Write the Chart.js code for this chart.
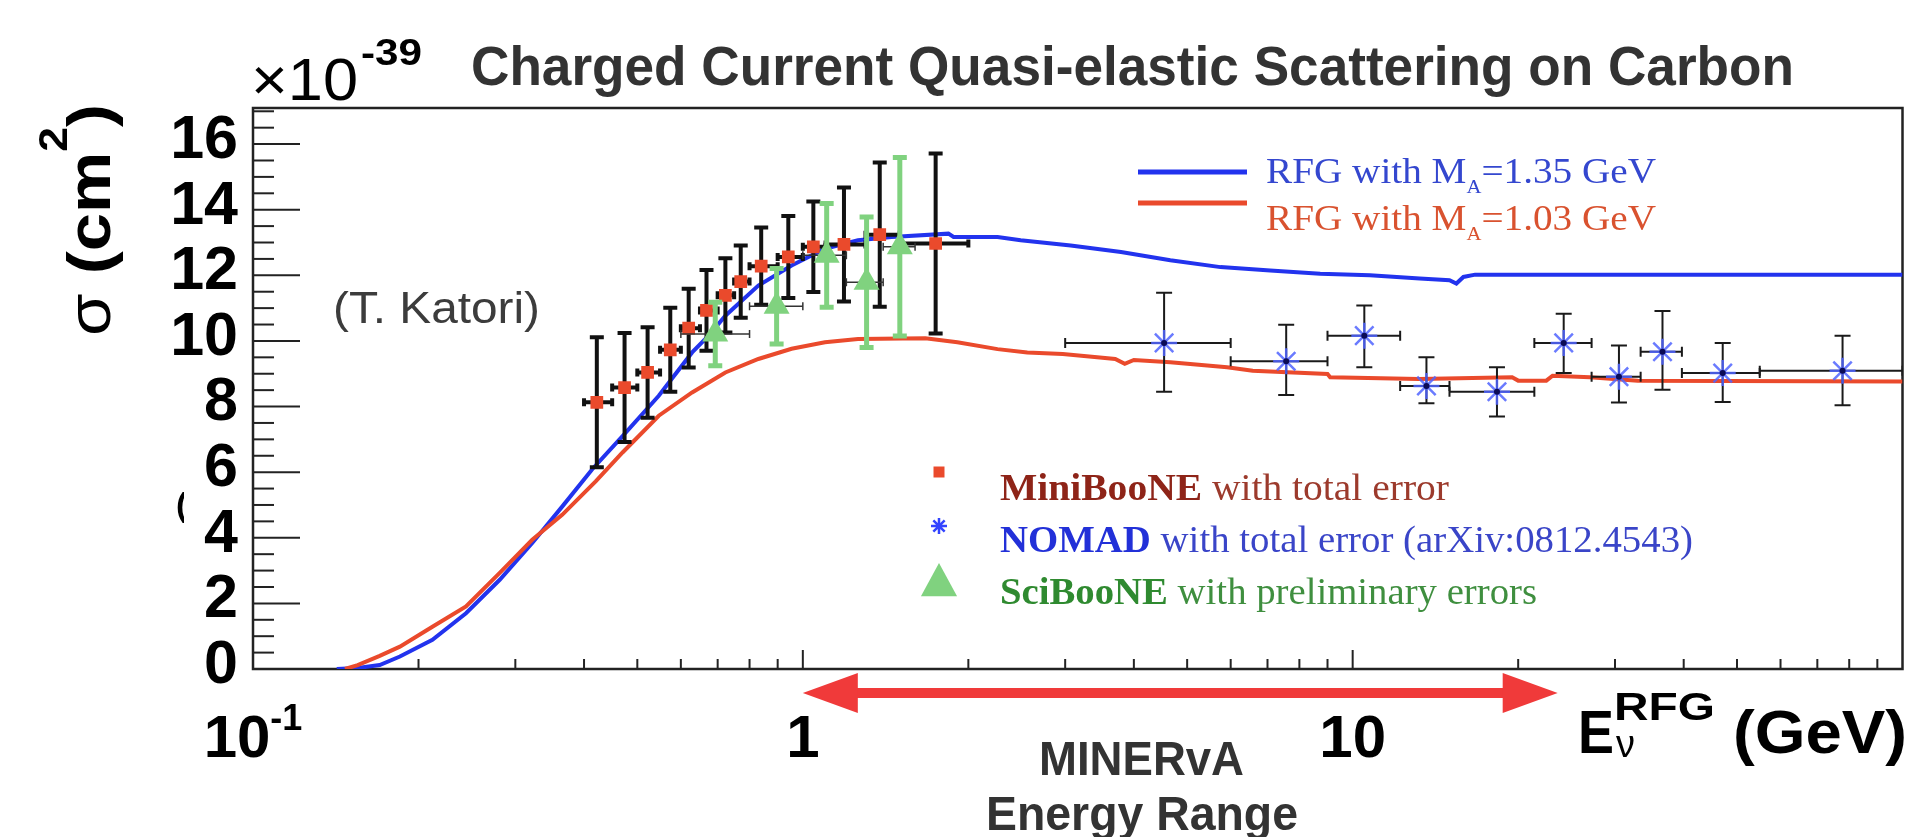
<!DOCTYPE html>
<html>
<head>
<meta charset="utf-8">
<title>Charged Current Quasi-elastic Scattering on Carbon</title>
<script src="https://cdn.jsdelivr.net/npm/chart.js@4.4.1/dist/chart.umd.min.js"></script>
<style>
  html, body { margin: 0; padding: 0; background: #fff; }
  canvas { display: block; }
</style>
</head>
<body>
<canvas id="xsecChart" width="1918" height="837"></canvas>
<script>
// ─── Data (E in GeV, sigma in 1e-39 cm^2) ─────────────────────────────────────
// RFG prediction, M_A = 1.35 GeV
const rfg135E    = [0.142, 0.155, 0.170, 0.185, 0.212, 0.244, 0.281, 0.322, 0.365, 0.414, 0.47, 0.547, 0.629, 0.674, 0.723, 0.83, 0.954, 1.097, 1.26, 1.45, 1.84, 1.88, 2.26, 2.49, 3.07, 3.79, 4.66, 5.75, 7.08, 8.73, 10.75, 13.24, 15.0, 15.44, 15.9, 16.7, 100];
const rfg135Xsec = [0, 0.03, 0.12, 0.38, 0.89, 1.70, 2.72, 3.84, 4.95, 6.09, 7.1, 8.33, 9.65, 10.16, 10.77, 11.69, 12.30, 12.81, 13.07, 13.17, 13.27, 13.17, 13.17, 13.07, 12.91, 12.71, 12.46, 12.25, 12.15, 12.05, 12.00, 11.90, 11.85, 11.75, 11.95, 12.02, 12.02];

// RFG prediction, M_A = 1.03 GeV
const rfg103E    = [0.147, 0.155, 0.170, 0.185, 0.212, 0.244, 0.281, 0.322, 0.365, 0.42, 0.47, 0.547, 0.629, 0.723, 0.83, 0.954, 1.097, 1.26, 1.67, 1.91, 2.26, 2.56, 2.97, 3.43, 3.7, 3.85, 4.0, 4.66, 5.91, 6.58, 9.0, 9.1, 13.2, 19.5, 20.0, 22.5, 23.1, 27.0, 33.0, 100];
const rfg103Xsec = [0, 0.12, 0.40, 0.68, 1.29, 1.91, 2.93, 3.94, 4.7, 5.72, 6.6, 7.72, 8.43, 9.04, 9.45, 9.76, 9.96, 10.06, 10.08, 9.96, 9.75, 9.65, 9.60, 9.50, 9.45, 9.30, 9.42, 9.35, 9.20, 9.09, 8.99, 8.89, 8.84, 8.89, 8.79, 8.79, 8.94, 8.89, 8.79, 8.76];

// MiniBooNE, total error
const mbE     = [0.422, 0.474, 0.522, 0.574, 0.62, 0.668, 0.723, 0.771, 0.84, 0.941, 1.045, 1.188, 1.38, 1.744];
const mbXsec  = [8.13, 8.58, 9.04, 9.73, 10.39, 10.93, 11.39, 11.81, 12.28, 12.56, 12.87, 12.94, 13.24, 12.97];
const mbErr   = [1.98, 1.66, 1.38, 1.28, 1.20, 1.23, 1.13, 1.10, 1.18, 1.25, 1.38, 1.74, 2.20, 2.74];
const mbBinLo = [0.40, 0.45, 0.50, 0.55, 0.60, 0.65, 0.70, 0.75, 0.80, 0.90, 1.00, 1.10, 1.30, 1.50];
const mbBinHi = [0.45, 0.50, 0.55, 0.60, 0.65, 0.70, 0.75, 0.80, 0.90, 1.00, 1.10, 1.30, 1.50, 2.00];

// NOMAD, total error (arXiv:0812.4543)
const nomadE       = [4.54, 7.57, 10.5, 13.62, 18.3, 24.2, 30.5, 36.6, 47.1, 77.8];
const nomadXsec    = [9.94, 9.38, 10.16, 8.63, 8.45, 9.94, 8.91, 9.67, 9.02, 9.09];
const nomadErrUp   = [1.53, 1.11, 0.92, 0.87, 0.75, 0.89, 0.95, 1.24, 0.92, 1.07];
const nomadErrDown = [1.49, 1.03, 0.96, 0.53, 0.75, 0.92, 0.79, 1.16, 0.88, 1.05];
const nomadBinLo   = [3.0, 6.0, 9.0, 12.2, 15.0, 21.4, 27.2, 33.4, 39.7, 55.0];
const nomadBinHi   = [6.0, 9.0, 12.2, 15.0, 21.4, 27.2, 33.4, 39.7, 55.0, 100];

// SciBooNE, preliminary errors
const sbE     = [0.693, 0.896, 1.105, 1.306, 1.501];
const sbXsec  = [10.21, 11.06, 12.61, 11.79, 12.87];
const sbErr   = [0.97, 1.15, 1.58, 1.99, 2.72];
const sbBinLo = [0.6, 0.8, 1.0, 1.2, 1.4];
const sbBinHi = [0.8, 1.0, 1.2, 1.4, 1.6];

// Axes
const yTickValues = [0, 2, 4, 6, 8, 10, 12, 14, 16];
const xTickValues = [0.1, 1, 10];
const xTickLabels = [['10', '-1'], ['1', ''], ['10', '']];
const minervaRange = [1, 23.6];

// ─── Styles ───────────────────────────────────────────────────────────────────
const SANS  = '"Liberation Sans", Arial, Helvetica, sans-serif';
const SERIF = '"Liberation Serif", "Times New Roman", serif';
const BLUE  = '#2233ee';
const RED   = '#ea4a2c';
const GREEN = '#80d27f';

function toPoints(xs, ys) {
  return xs.map((x, i) => ({ x, y: ys[i] }));
}

function line(ctx, x0, y0, x1, y1) {
  ctx.beginPath();
  ctx.moveTo(x0, y0);
  ctx.lineTo(x1, y1);
  ctx.stroke();
}

// Draws text runs on one baseline, squeezed/stretched to `width` if given
function drawRuns(ctx, runs, x, y, width) {
  ctx.save();
  let natural = 0;
  runs.forEach(r => { ctx.font = r.font; natural += ctx.measureText(r.text).width; });
  ctx.translate(x, y);
  if (width) ctx.scale(width / natural, 1);
  ctx.textAlign = 'left';
  ctx.textBaseline = 'alphabetic';
  let cx = 0;
  runs.forEach(r => {
    ctx.font = r.font;
    ctx.fillStyle = r.color || '#000';
    ctx.fillText(r.text, cx, r.dy || 0);
    cx += ctx.measureText(r.text).width;
  });
  ctx.restore();
}

function drawMarker(ctx, style, x, y, r, color) {
  ctx.save();
  ctx.fillStyle = color;
  ctx.strokeStyle = color;
  ctx.beginPath();
  if (style === 'rect') {
    ctx.rect(x - r, y - r, 2 * r, 2 * r);
    ctx.fill();
  } else if (style === 'triangle') {
    ctx.moveTo(x, y - r);
    ctx.lineTo(x + r * 0.95, y + r * 0.75);
    ctx.lineTo(x - r * 0.95, y + r * 0.75);
    ctx.closePath();
    ctx.fill();
  } else if (style === 'star') {
    ctx.lineWidth = 2.5;
    for (let k = 0; k < 4; k++) {
      const a = k * Math.PI / 4;
      ctx.moveTo(x - r * Math.cos(a), y - r * Math.sin(a));
      ctx.lineTo(x + r * Math.cos(a), y + r * Math.sin(a));
    }
    ctx.stroke();
  }
  ctx.restore();
}

// ─── Plugins ──────────────────────────────────────────────────────────────────
const backgroundPlugin = {
  id: 'whiteBackground',
  beforeDraw(chart) {
    const { ctx, width, height } = chart;
    ctx.save();
    ctx.fillStyle = '#fff';
    ctx.fillRect(0, 0, width, height);
    ctx.restore();
  }
};

// Frame and inward ticks, ROOT style
const framePlugin = {
  id: 'frame',
  beforeDatasetsDraw(chart) {
    const { ctx, chartArea: a, scales: { x, y } } = chart;
    ctx.save();
    ctx.strokeStyle = '#222';
    ctx.lineWidth = 2;
    for (let v = 0; v <= y.max + 1e-9; v += 0.5) {
      const py = y.getPixelForValue(v);
      line(ctx, a.left, py, a.left + (yTickValues.includes(v) ? 47 : 21), py);
    }
    for (let d = -1; d < 2; d++) {
      for (let k = 1; k < 10; k++) {
        const px = x.getPixelForValue(k * Math.pow(10, d));
        line(ctx, px, a.bottom, px, a.bottom - (k === 1 ? 19 : 10));
      }
    }
    ctx.lineWidth = 2.5;
    ctx.strokeRect(a.left, a.top, a.right - a.left, a.bottom - a.top);
    ctx.restore();
  }
};

// Vertical error bars and horizontal bin-width bars, drawn under the markers
const errorBarPlugin = {
  id: 'errorBars',
  beforeDatasetDraw(chart, args) {
    const ds = chart.data.datasets[args.index];
    const eb = ds.errorBars;
    if (!eb) return;
    const { ctx, chartArea: a, scales: { x, y } } = chart;
    ctx.save();
    ctx.beginPath();
    ctx.rect(a.left, a.top - 20, a.right - a.left, a.bottom - a.top + 20);
    ctx.clip();
    ds.data.forEach((p, i) => {
      const px = x.getPixelForValue(p.x);
      const py = y.getPixelForValue(p.y);
      if (eb.lo) {
        const x0 = x.getPixelForValue(eb.lo[i]);
        const x1 = x.getPixelForValue(eb.hi[i]);
        ctx.strokeStyle = eb.xColor;
        ctx.lineWidth = eb.xWidth;
        line(ctx, x0, py, x1, py);
        line(ctx, x0, py - eb.xCap, x0, py + eb.xCap);
        line(ctx, x1, py - eb.xCap, x1, py + eb.xCap);
      }
      const yt = y.getPixelForValue(p.y + eb.up[i]);
      const yb = y.getPixelForValue(p.y - eb.down[i]);
      ctx.strokeStyle = eb.color;
      ctx.lineWidth = eb.width;
      line(ctx, px, yt, px, yb);
      line(ctx, px - eb.cap, yt, px + eb.cap, yt);
      line(ctx, px - eb.cap, yb, px + eb.cap, yb);
    });
    ctx.restore();
  },
  afterDatasetDraw(chart, args) {
    const ds = chart.data.datasets[args.index];
    if (!ds.centerDot) return;
    const { ctx, scales: { x, y } } = chart;
    ctx.save();
    ctx.fillStyle = ds.centerDot;
    ds.data.forEach(p => {
      ctx.beginPath();
      ctx.arc(x.getPixelForValue(p.x), y.getPixelForValue(p.y), 3, 0, 2 * Math.PI);
      ctx.fill();
    });
    ctx.restore();
  }
};

// Axis labels, titles, legends and the MINERvA range arrow
const annotationPlugin = {
  id: 'annotations',
  afterDraw(chart) {
    const { ctx, chartArea: a, scales: { x, y } } = chart;
    ctx.save();

    // y tick labels
    ctx.font = `bold 61px ${SANS}`;
    ctx.fillStyle = '#000';
    ctx.textAlign = 'right';
    ctx.textBaseline = 'middle';
    yTickValues.forEach(v => ctx.fillText(String(v), a.left - 15, y.getPixelForValue(v) - 3));

    // x tick labels (with exponent)
    xTickValues.forEach((v, i) => {
      const [base, sup] = xTickLabels[i];
      ctx.font = `bold 60px ${SANS}`;
      const wb = ctx.measureText(base).width;
      ctx.font = `bold 36px ${SANS}`;
      const ws = sup ? ctx.measureText(sup).width : 0;
      const left = x.getPixelForValue(v) - (wb + ws) / 2;
      drawRuns(ctx, [
        { text: base, font: `bold 60px ${SANS}` },
        { text: sup, font: `bold 36px ${SANS}`, dy: -27 }
      ], left, 757);
    });

    // axis exponent and title
    drawRuns(ctx, [{ text: '×10', font: `60px ${SANS}` }], 251, 100, 107);
    drawRuns(ctx, [{ text: '-39', font: `bold 36px ${SANS}` }], 361, 65, 61);
    drawRuns(ctx, [{ text: 'Charged Current Quasi-elastic Scattering on Carbon', font: `bold 56px ${SANS}`, color: '#333' }], 471, 85, 1323);

    // y axis title, rotated
    ctx.save();
    ctx.translate(110, 336);
    ctx.rotate(-Math.PI / 2);
    drawRuns(ctx, [
      { text: 'σ', font: `62px ${SANS}` },
      { text: ' (cm', font: `bold 62px ${SANS}` },
      { text: '2', font: `bold 40px ${SANS}`, dy: -43 },
      { text: ')', font: `bold 62px ${SANS}` }
    ], 0, 0, 232);
    ctx.restore();

    // x axis title
    drawRuns(ctx, [{ text: 'E', font: `bold 62px ${SANS}` }], 1578, 753, 36);
    drawRuns(ctx, [{ text: 'RFG', font: `bold 38px ${SANS}` }], 1614, 720, 101);
    drawRuns(ctx, [{ text: 'ν', font: `38px ${SANS}` }], 1616, 757);
    drawRuns(ctx, [{ text: '(GeV)', font: `bold 62px ${SANS}` }], 1733, 753, 174);

    // credit
    drawRuns(ctx, [{ text: '(T. Katori)', font: `44px ${SANS}`, color: '#3c3c3c' }], 333, 323, 207);

    // stray bracket left of the y axis
    ctx.save();
    ctx.beginPath();
    ctx.rect(170, 480, 14, 50);
    ctx.clip();
    drawRuns(ctx, [{ text: '(', font: `bold 34px ${SANS}` }], 176, 516);
    ctx.restore();

    // model legend
    ctx.lineWidth = 5;
    ctx.strokeStyle = BLUE;
    line(ctx, 1138, 172, 1247, 172);
    ctx.strokeStyle = RED;
    line(ctx, 1138, 203, 1247, 203);
    const modelRuns = (val, color) => [
      { text: 'RFG with M', font: `36px ${SERIF}`, color },
      { text: 'A', font: `19px ${SERIF}`, color, dy: 10 },
      { text: '=' + val + ' GeV', font: `36px ${SERIF}`, color }
    ];
    drawRuns(ctx, modelRuns('1.35', '#3447cf'), 1266, 183, 390);
    drawRuns(ctx, modelRuns('1.03', '#d9522f'), 1266, 230, 390);

    // data legend
    drawMarker(ctx, 'rect', 939, 472, 5.5, RED);
    drawMarker(ctx, 'star', 939, 526, 8, '#3344ff');
    drawMarker(ctx, 'triangle', 939, 582, 19, GREEN);
    drawRuns(ctx, [
      { text: 'MiniBooNE', font: `bold 37px ${SERIF}`, color: '#8e2418' },
      { text: ' with total error', font: `37px ${SERIF}`, color: '#9c3a2c' }
    ], 1000, 500, 449);
    drawRuns(ctx, [
      { text: 'NOMAD', font: `bold 37px ${SERIF}`, color: '#2230d8' },
      { text: ' with total error (arXiv:0812.4543)', font: `37px ${SERIF}`, color: '#3a45c8' }
    ], 1000, 552, 693);
    drawRuns(ctx, [
      { text: 'SciBooNE', font: `bold 37px ${SERIF}`, color: '#2f8a30' },
      { text: ' with preliminary errors', font: `37px ${SERIF}`, color: '#3f8f3f' }
    ], 1000, 604, 537);

    // MINERvA energy range arrow
    const ax0 = x.getPixelForValue(minervaRange[0]);
    const ax1 = x.getPixelForValue(minervaRange[1]);
    const ay = 693, head = 55, half = 20;
    ctx.fillStyle = '#f03a3a';
    ctx.fillRect(ax0 + head - 2, ay - 5, ax1 - ax0 - 2 * head + 4, 10);
    ctx.beginPath();
    ctx.moveTo(ax0, ay);
    ctx.lineTo(ax0 + head, ay - half);
    ctx.lineTo(ax0 + head, ay + half);
    ctx.closePath();
    ctx.fill();
    ctx.beginPath();
    ctx.moveTo(ax1, ay);
    ctx.lineTo(ax1 - head, ay - half);
    ctx.lineTo(ax1 - head, ay + half);
    ctx.closePath();
    ctx.fill();

    drawRuns(ctx, [{ text: 'MINERvA', font: `bold 48px ${SANS}`, color: '#333' }], 1039, 775, 205);
    drawRuns(ctx, [{ text: 'Energy Range', font: `bold 48px ${SANS}`, color: '#333' }], 986, 830, 312);

    ctx.restore();
  }
};

// ─── Chart ────────────────────────────────────────────────────────────────────
new Chart(document.getElementById('xsecChart'), {
  type: 'scatter',
  data: {
    datasets: [
      {
        label: 'RFG with M_A=1.35 GeV',
        data: toPoints(rfg135E, rfg135Xsec),
        showLine: true, borderColor: BLUE, borderWidth: 4, pointRadius: 0, tension: 0,
        order: 5,
      },
      {
        label: 'RFG with M_A=1.03 GeV',
        data: toPoints(rfg103E, rfg103Xsec),
        showLine: true, borderColor: RED, borderWidth: 4, pointRadius: 0, tension: 0,
        order: 4,
      },
      {
        label: 'MiniBooNE',
        data: toPoints(mbE, mbXsec),
        pointStyle: 'rect', pointRadius: 9, backgroundColor: RED, borderWidth: 0,
        order: 3,
        errorBars: { up: mbErr, down: mbErr, lo: mbBinLo, hi: mbBinHi,
                     color: '#111', width: 4, cap: 7, xColor: '#111', xWidth: 4, xCap: 4 },
      },
      {
        label: 'NOMAD',
        data: toPoints(nomadE, nomadXsec),
        pointStyle: 'star', pointRadius: 13, borderColor: 'rgba(80,100,255,0.85)', borderWidth: 2.5,
        order: 2,
        centerDot: '#0b0b55',
        errorBars: { up: nomadErrUp, down: nomadErrDown, lo: nomadBinLo, hi: nomadBinHi,
                     color: '#1a1a1a', width: 2, cap: 8, xColor: '#1a1a1a', xWidth: 2, xCap: 5 },
      },
      {
        label: 'SciBooNE',
        data: toPoints(sbE, sbXsec),
        pointStyle: 'triangle', pointRadius: 15, backgroundColor: GREEN, borderWidth: 0,
        order: 1,
        errorBars: { up: sbErr, down: sbErr, lo: sbBinLo, hi: sbBinHi,
                     color: GREEN, width: 5, cap: 7, xColor: '#333', xWidth: 1.5, xCap: 4 },
      },
    ]
  },
  options: {
    responsive: false,
    animation: false,
    layout: { padding: { left: 253, right: 7, top: 108, bottom: 168 } },
    plugins: { legend: { display: false }, tooltip: { enabled: false } },
    scales: {
      x: { type: 'logarithmic', min: 0.1, max: 100, bounds: 'data', display: false },
      y: { type: 'linear', min: 0, max: 17.1, bounds: 'data', display: false },
    }
  },
  plugins: [backgroundPlugin, framePlugin, errorBarPlugin, annotationPlugin]
});
</script>
</body>
</html>
